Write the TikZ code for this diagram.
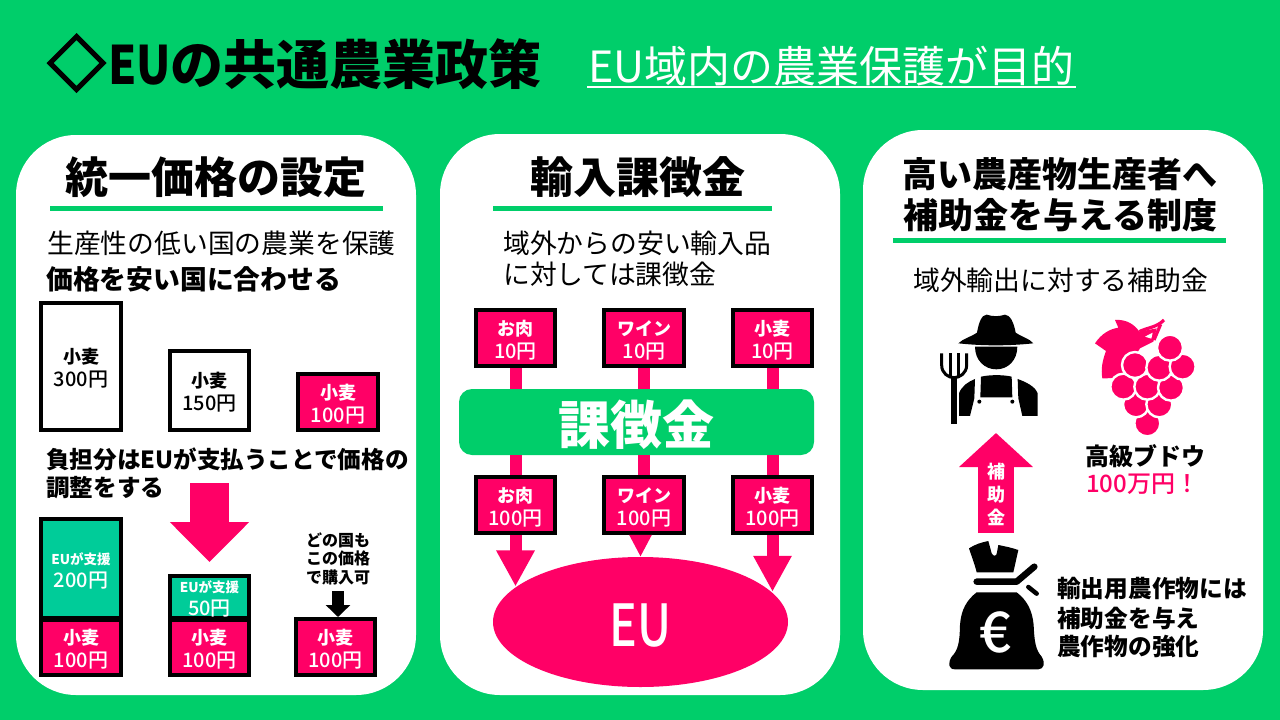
\documentclass[tikz,border=0pt]{standalone}
\usepackage{fontspec}
\usepackage{tikz}
\usetikzlibrary{arrows.meta,shapes.geometric}
\setmainfont{Noto Sans CJK JP}
\newfontfamily\heavyjp{Noto Sans CJK JP Black}
\newfontfamily\midjp{Noto Sans CJK JP Medium}
\newfontfamily\narrowjp[FakeStretch=0.8]{Noto Sans CJK JP Medium}
\newfontfamily\narrowheavy[FakeStretch=0.85]{Noto Sans CJK JP Black}
\definecolor{leaf}{HTML}{00CE6A}
\definecolor{teal}{HTML}{00CC99}
\definecolor{rose}{HTML}{FF0066}
\newcommand{\fsz}[1]{\fontsize{#1}{#1}\selectfont}
\newcommand{\pricetext}[2]{\rule{0pt}{19.5pt}{\bfseries\fontsize{18}{23}\selectfont #1}\\#2}
\tikzset{
    panel/.style={fill=white, rounded corners=60pt},
    rulebar/.style={leaf, line width=5pt},
    pricebox/.style={draw=black, line width=4pt, inner sep=0pt, align=center, midnode},
    midnode/.style={font=\midjp\fontsize{20}{23}\selectfont},
    pinkbox/.style={pricebox, fill=rose, text=white},
    euaid/.style={pricebox, fill=teal, text=white},
    head/.style={inner sep=0pt, align=center, font=\heavyjp\fsz{43}},
    plain/.style={inner sep=0pt, anchor=west, font=\fsz{26.8}},
    strong/.style={inner sep=0pt, anchor=west, font=\bfseries\fsz{26.8}},
    pipe/.style={rose, line width=12pt},
    pipehead/.style={rose, line width=12pt, -{Triangle[length=36pt,width=36pt]}},
}

\begin{document}
\begin{tikzpicture}[x=1pt, y=-1pt]
        \useasboundingbox (0,0) rectangle (1280,720);
        \fill[leaf] (0,0) rectangle (1280,720);

        % title
        \node[diamond, draw=black, line width=5pt, minimum width=55pt, minimum height=55pt, inner sep=0pt] (mark) at (76.5,63) {};
        \node[inner sep=0pt, anchor=west, font=\heavyjp\fsz{53}] (title) at (108,64) {{\narrowheavy EU}の共通農業政策};
        \node[inner sep=0pt, anchor=west, text=white, font=\fsz{43}] (subtitle) at (588,66) {EU域内の農業保護が目的};
        \coordinate (subleft) at (587,87);
        \coordinate (subright) at (1076,87);
        \draw[white, line width=2pt] (subleft) -- (subright);

        \fill[panel] (16,135) rectangle (416,695);
        \fill[panel] (440,134) rectangle (840,695);
        \fill[panel] (863,130) rectangle (1263,690);

        % left panel
        \node[head] (priceHead) at (216,177) {統一価格の設定};
        \coordinate (priceRuleL) at (50,208);
        \coordinate (priceRuleR) at (383,208);
        \draw[rulebar] (priceRuleL) -- (priceRuleR);
        \node[plain] (priceA) at (47,243) {生産性の低い国の農業を保護};
        \node[strong] (priceB) at (46,279) {価格を安い国に合わせる};

        \node[pricebox, minimum width=80pt, minimum height=127pt] (wheat300) at (81,366.5) {\pricetext{小麦}{300円}};
        \node[pricebox, minimum width=79pt, minimum height=79pt] (wheat150) at (209.5,390.5) {\pricetext{小麦}{150円}};
        \node[pinkbox, minimum width=80pt, minimum height=56pt] (wheat100) at (338,402) {\pricetext{小麦}{100円}};

        \node[strong, font=\bfseries\fsz{23.6}] (costA) at (46,459) {負担分はEUが支払うことで価格の};
        \node[strong, font=\bfseries\fsz{23.6}] (costB) at (46,488) {調整をする};

        \coordinate (bigTop) at (209.5,483);
        \coordinate (bigTip) at (209.5,562);
        \draw[rose, line width=39pt, -{Triangle[length=40pt,width=77pt]}] (bigTop) -- (bigTip);

        \node[euaid, minimum width=80pt, minimum height=99pt] (aid200) at (81,568.5) {\rule{0pt}{17pt}{\bfseries\fontsize{13.5}{23}\selectfont EUが支援}\\200円};
        \node[pinkbox, minimum width=80pt, minimum height=55pt] (lowA) at (81,647.5) {\pricetext{小麦}{100円}};
        \node[euaid, minimum width=79pt, minimum height=42pt] (aid50) at (209.5,597) {\rule{0pt}{15pt}{\bfseries\fontsize{13.5}{19}\selectfont EUが支援}\\50円};
        \node[pinkbox, minimum width=79pt, minimum height=55pt] (lowB) at (209.5,647.5) {\pricetext{小麦}{100円}};
        \node[pinkbox, minimum width=79pt, minimum height=56pt] (lowC) at (335.5,647) {\pricetext{小麦}{100円}};

        \node[inner sep=0pt, align=center, font=\bfseries\fontsize{16}{18.5}\selectfont] (anyland) at (338,558.5) {どの国も\\この価格\\で購入可};
        \coordinate (smallTop) at (338,591);
        \draw[black, line width=12pt, -{Triangle[length=12pt,width=24pt]}] (smallTop) -- (lowC.north -| smallTop);

        % middle panel
        \node[head] (levyHead) at (637.5,177) {輸入課徴金};
        \coordinate (levyRuleL) at (493,208);
        \coordinate (levyRuleR) at (772,208);
        \draw[rulebar] (levyRuleL) -- (levyRuleR);
        \node[plain] (levyA) at (503,243) {域外からの安い輸入品};
        \node[plain] (levyB) at (503,274) {に対しては課徴金};

        \node[pinkbox, minimum width=79pt, minimum height=56pt] (meatTop) at (515.5,338) {\pricetext{お肉}{10円}};
        \node[pinkbox, minimum width=80pt, minimum height=56pt] (wineTop) at (644,338) {\pricetext{ワイン}{10円}};
        \node[pinkbox, minimum width=79pt, minimum height=56pt] (wheatTop) at (772.5,338) {\pricetext{小麦}{10円}};

        \node[fill=leaf, rounded corners=13pt, minimum width=355pt, minimum height=66pt, inner sep=0pt, text=white, font=\heavyjp\fsz{52}] (levyBand) at (636.5,422) {\raisebox{-3pt}[\height][\depth]{課徴金}};

        \node[pinkbox, minimum width=79pt, minimum height=56pt] (meatLow) at (515.5,505) {\pricetext{お肉}{100円}};
        \node[pinkbox, minimum width=80pt, minimum height=56pt] (wineLow) at (644,505) {\pricetext{ワイン}{100円}};
        \node[pinkbox, minimum width=79pt, minimum height=56pt] (wheatLow) at (772.5,505) {\pricetext{小麦}{100円}};

        \node[ellipse, fill=rose, inner sep=0pt, minimum width=295pt, minimum height=130pt, text=white, font=\narrowjp\fsz{58}] (eu) at (640.5,622) {\raisebox{-4pt}[\height][\depth]{EU}};

        \draw[pipe] (meatTop.south) -- (meatTop.south |- levyBand.north);
        \draw[pipe] (wineTop.south) -- (wineTop.south |- levyBand.north);
        \draw[pipe] (wheatTop.south) -- (wheatTop.south |- levyBand.north);
        \draw[pipe] (levyBand.south -| meatLow.north) -- (meatLow.north);
        \draw[pipe] (levyBand.south -| wineLow.north) -- (wineLow.north);
        \draw[pipe] (levyBand.south -| wheatLow.north) -- (wheatLow.north);
        \draw[pipehead] (meatLow.south) -- (meatLow.south |- eu.164);
        \draw[rose, line width=12pt, -{Triangle[length=22pt,width=21pt]}] (eu.north |- wineLow.south) -- (eu.north);
        \draw[pipehead] (wheatLow.south) -- (wheatLow.south |- eu.13);

        % right panel
        \node[head, font=\heavyjp\fontsize{35}{41}\selectfont] (subsidyHead) at (1060,194.5) {高い農産物生産者へ\\補助金を与える制度};
        \coordinate (subsidyRuleL) at (893,240);
        \coordinate (subsidyRuleR) at (1226,240);
        \draw[rulebar] (subsidyRuleL) -- (subsidyRuleR);
        \node[plain] (subsidyA) at (913,280) {域外輸出に対する補助金};

        % farmer
        \begin{scope}[shift={(935,310)}, x=0.3333pt, y=-0.3333pt]
            \fill (70,100) .. controls (85,85) and (110,80) .. (126,68) .. controls (132,35) and (140,15) .. (155,14)
                .. controls (175,20) and (190,20) .. (210,14) .. controls (225,15) and (236,35) .. (242,68)
                .. controls (258,80) and (283,85) .. (295,100) .. controls (220,108) and (145,108) .. (70,100) -- cycle;
            \fill (120,110) -- (247,110) .. controls (247,150) and (220,178) .. (184,178) .. controls (148,178) and (120,150) .. (120,110) -- cycle;
            \fill (138,200) .. controls (165,194) and (205,194) .. (230,200) -- (232,262) -- (136,262) -- cycle;
            \fill (72,318) -- (72,250) .. controls (80,228) and (100,215) .. (120,207) -- (118,265) -- (105,318) -- cycle;
            \fill (308,318) -- (308,250) .. controls (300,228) and (270,215) .. (248,207) -- (250,265) -- (262,318) -- cycle;
            \fill (133,275) circle (6);
            \fill (232,275) circle (6);
            \draw[line width=3pt] (20,130) -- (20,165) .. controls (20,190) and (40,203) .. (57,203) .. controls (74,203) and (95,190) .. (95,165) -- (95,130);
            \draw[line width=3pt] (45,130) -- (45,200);
            \draw[line width=3pt] (70,130) -- (70,200);
            \draw[line width=5.3pt] (57,200) -- (57,342);
        \end{scope}

        % grapes
        \begin{scope}[shift={(1090,315)}, x=0.3333pt, y=-0.3333pt]
            \fill[rose] (15,85) .. controls (35,55) and (60,42) .. (85,38) -- (75,15) .. controls (110,12) and (135,30) .. (148,50)
                -- (200,40) -- (190,80) -- (150,100) -- (100,180) .. controls (80,190) and (55,190) .. (37,190)
                .. controls (32,160) and (38,135) .. (48,108) -- cycle;
            \draw[rose, line width=3.2pt] (148,50) .. controls (170,38) and (200,38) .. (222,15);
            \draw[rose, line width=3.2pt] (212,28) -- (192,75);
            \fill[white] (165,65) -- (188,53) -- (184,71) -- cycle;
            \foreach \gx/\gy in {172/325,138/268,208/268,100/215,172/215,243/218,135/150,208/158,278/155,240/98}
                \draw[white, fill=rose, line width=2.4pt] (\gx,\gy) circle (39);
        \end{scope}

        \node[inner sep=0pt, align=center, font=\bfseries\fsz{24}] (grapeName) at (1145,456) {高級ブドウ};
        \node[inner sep=0pt, anchor=west, text=rose, font=\midjp\fsz{24}] (grapePrice) at (1086,484) {100万円！};

        \coordinate (subsidyFoot) at (996,533);
        \coordinate (subsidyTip) at (996,433);
        \draw[rose, line width=36pt, -{Triangle[length=34pt,width=72pt]}] (subsidyFoot) -- (subsidyTip);
        \node[inner sep=0pt, align=center, text=white, font=\bfseries\fontsize{18}{23}\selectfont] (subsidyWord) at (996,494) {補\\助\\金};

        % money bag
        \begin{scope}[shift={(945,535)}, x=0.3333pt, y=-0.3333pt]
            \fill (72,40) .. controls (90,28) and (110,22) .. (130,18) -- (140,55) .. controls (145,65) and (155,65) .. (156,52) -- (160,30)
                .. controls (180,34) and (200,38) .. (220,45) -- (205,112) -- (95,112) .. controls (90,90) and (80,65) .. (72,40) -- cycle;
            \draw[line width=6.5pt, line cap=round, line join=round] (95,140) -- (215,140) -- (268,95);
            \draw[line width=4.5pt, line cap=round] (250,156) -- (275,176);
            \fill (95,172) -- (215,172) .. controls (245,195) and (262,225) .. (266,270) .. controls (268,320) and (272,345) .. (290,365)
                .. controls (302,385) and (296,403) .. (280,403) -- (30,403) .. controls (10,403) and (8,385) .. (20,365)
                .. controls (40,345) and (44,320) .. (45,270) .. controls (48,225) and (65,195) .. (95,172) -- cycle;
        \end{scope}
        \node[inner sep=0pt, text=white, font=\midjp\fsz{56}] (euro) at (995,632) {€};

        \node[strong, font=\bfseries\fsz{23.7}] (exportA) at (1057,589) {輸出用農作物には};
        \node[strong, font=\bfseries\fsz{23.7}] (exportB) at (1057,618) {補助金を与え};
        \node[strong, font=\bfseries\fsz{23.7}] (exportC) at (1057,647) {農作物の強化};
    \end{tikzpicture}
\end{document}
